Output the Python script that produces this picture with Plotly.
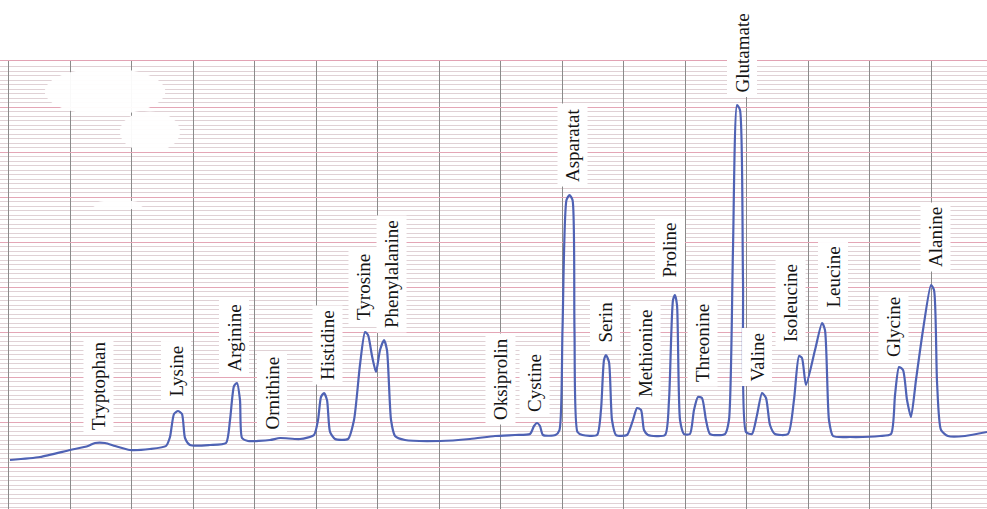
import plotly.graph_objects as go

# Retention time (chart divisions) and detector signal (major divisions)
time = [0.024, 0.512, 1.0, 1.293, 1.407, 1.569, 1.732, 1.976, 2.301, 2.561,
        2.626, 2.691, 2.756, 2.821, 2.870, 2.951, 3.276, 3.537, 3.602, 3.667,
        3.715, 3.764, 3.797, 3.894, 4.252, 4.415, 4.740, 4.967, 5.033, 5.081,
        5.130, 5.179, 5.228, 5.309, 5.520, 5.618, 5.715, 5.797, 5.846, 5.911,
        5.976, 6.041, 6.106, 6.154, 6.220, 6.285, 6.447, 7.016, 7.504, 7.911,
        8.236, 8.480, 8.545, 8.593, 8.642, 8.691, 8.894, 8.959, 9.008, 9.073,
        9.122, 9.171, 9.203, 9.252, 9.333, 9.569, 9.634, 9.683, 9.715, 9.764,
        9.813, 9.878, 10.057, 10.154, 10.220, 10.285, 10.333, 10.398, 10.675, 10.740,
        10.805, 10.837, 10.870, 10.919, 10.984, 11.081, 11.146, 11.211, 11.276, 11.341,
        11.407, 11.650, 11.715, 11.780, 11.846, 11.894, 11.943, 11.992, 12.089, 12.171,
        12.252, 12.317, 12.382, 12.463, 12.675, 12.772, 12.854, 12.902, 12.967, 13.114,
        13.228, 13.276, 13.341, 13.407, 13.683, 14.171, 14.350, 14.415, 14.480, 14.545,
        14.610, 14.675, 14.756, 14.870, 15.000, 15.049, 15.098, 15.163, 15.276, 15.553,
        15.911]
signal = [1.156, 1.222, 1.378, 1.467, 1.533, 1.533, 1.467, 1.378, 1.400, 1.467,
          1.667, 2.178, 2.244, 2.178, 1.644, 1.489, 1.489, 1.533, 2.044, 2.800,
          2.867, 2.489, 1.644, 1.578, 1.600, 1.644, 1.622, 1.711, 2.044, 2.556,
          2.644, 2.489, 1.778, 1.622, 1.622, 2.044, 3.267, 4.000, 3.933, 3.467,
          3.111, 3.600, 3.822, 3.600, 2.044, 1.689, 1.600, 1.578, 1.622, 1.689,
          1.711, 1.733, 1.911, 1.978, 1.911, 1.711, 1.711, 1.822, 4.044, 6.933,
          7.044, 6.933, 4.044, 1.778, 1.711, 1.711, 2.267, 3.378, 3.489, 3.333,
          2.044, 1.711, 1.711, 2.044, 2.311, 2.267, 1.822, 1.711, 1.711, 2.489,
          4.711, 4.822, 4.600, 2.044, 1.733, 1.733, 2.267, 2.556, 2.533, 2.044,
          1.733, 1.733, 2.044, 5.822, 9.044, 8.933, 5.156, 1.778, 1.733, 2.156,
          2.644, 2.533, 1.933, 1.733, 1.733, 2.489, 3.467, 3.422, 2.822, 3.600,
          4.200, 4.044, 2.044, 1.689, 1.667, 1.689, 1.733, 2.600, 3.222, 3.156,
          2.489, 2.111, 2.933, 4.044, 5.044, 4.933, 2.889, 1.822, 1.689, 1.689,
          1.778]

# Peak labels: name, time position, signal level of label base
peak_names = ["Tryptophan", "Lysine", "Arginine", "Ornithine", "Histidine",
              "Tyrosine", "Phenylalanine", "Oksiprolin", "Cystine", "Asparatat",
              "Serin", "Methionine", "Proline", "Threonine", "Glutamate",
              "Valine", "Isoleucine", "Leucine", "Glycine", "Alanine"]
peak_label_time = [1.455, 2.724, 3.667, 4.285, 5.179, 5.780, 6.236, 7.992, 8.545, 9.163,
                   9.699, 10.350, 10.756, 11.293, 11.927, 12.171, 12.724, 13.407, 14.382, 15.065]
peak_label_level = [1.711, 2.444, 3.000, 1.711, 2.822, 4.156, 3.978, 1.933, 2.111, 7.222,
                    3.667, 2.444, 5.111, 2.778, 9.200, 2.778, 3.667, 4.422, 3.333, 5.333]

fig = go.Figure()
fig.add_trace(go.Scatter(
    x=time, y=signal, mode="lines",
    line=dict(color="#4f62b4", width=2.2, shape="spline", smoothing=0.6),
    hoverinfo="skip", showlegend=False,
))

for name, t, s in zip(peak_names, peak_label_time, peak_label_level):
    fig.add_annotation(
        x=t, y=s, xref="x", yref="y", text=name, showarrow=False,
        textangle=-90, xanchor="center", yanchor="bottom",
        font=dict(family="Liberation Serif", size=19, color="#151515"),
        bgcolor="white", borderpad=4,
    )

# erased (white) patches on the chart paper
blobs = [(0.59, 8.82, 2.55, 9.87), (1.81, 8.0, 2.79, 8.9), (1.37, 6.71, 2.19, 6.93)]
for x0, y0, x1, y1 in blobs:
    fig.add_shape(type="circle", xref="x", yref="y", x0=x0, y0=y0, x1=x1, y1=y1,
                  fillcolor="white", line=dict(width=0), layer="above", opacity=0.95)

fig.update_xaxes(
    range=[-8.5 / 61.5, (987 - 8.5) / 61.5], dtick=1, tick0=0,
    showgrid=True, gridcolor="#8a8a8a", gridwidth=1.2,
    zeroline=True, zerolinecolor="#8a8a8a", zerolinewidth=1.2,
    showticklabels=False, ticks="",
    showline=True, mirror=True, linecolor="#e2a3b4", linewidth=1,
)
fig.update_yaxes(
    range=[3 / 45, 10 + 1 / 45], dtick=1, tick0=0,
    showgrid=True, gridcolor="#e4a6b6", gridwidth=1,
    minor=dict(dtick=0.1, tick0=0, showgrid=True, gridcolor="#e0d1d5", gridwidth=1),
    zeroline=False, showticklabels=False, ticks="",
)
fig.update_layout(
    width=987, height=509,
    margin=dict(l=0, r=0, t=61, b=0),
    paper_bgcolor="white", plot_bgcolor="white",
)

fig.write_html(
    "out.html",
    config={"displayModeBar": False},
    post_script="document.body.style.margin='0';document.body.style.overflow='hidden';",
)
